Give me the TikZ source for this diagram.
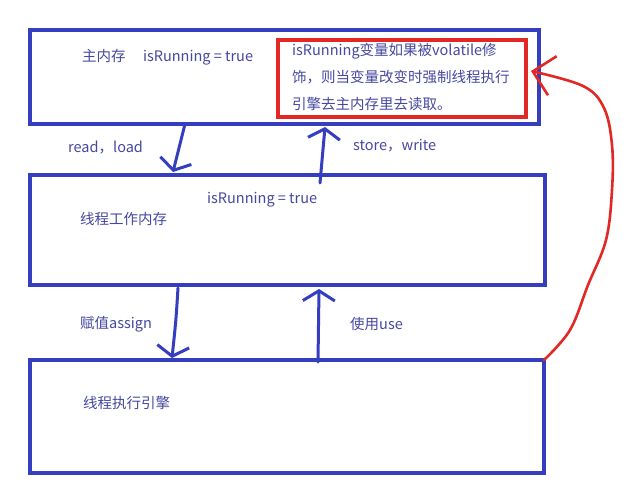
\documentclass[tikz,border=0pt]{standalone}
\usepackage{fontspec}
\setmainfont{Noto Sans CJK SC}
\usetikzlibrary{arrows.meta}
\definecolor{boxblue}{RGB}{52,62,190}
\definecolor{txtblue}{RGB}{70,72,160}
\definecolor{redline}{RGB}{226,40,36}
\tikzset{
  membox/.style={draw=boxblue,line width=4bp,anchor=north west,inner sep=0pt,outer sep=0pt},
  notebox/.style={draw=redline,line width=4bp,anchor=north west,inner sep=0pt,outer sep=0pt},
  lbl/.style={text=txtblue,anchor=west,inner sep=0pt,font=\fontsize{14.5bp}{17bp}\selectfont},
  flow/.style={draw=boxblue,line width=3bp,line cap=round,-{Straight Barb[length=10bp,width=32bp,line width=3bp]}},
  hint/.style={draw=redline,line width=2.6bp,line cap=round,-{Straight Barb[length=20bp,width=40bp,line width=2.6bp]}}
}
\begin{document}
\begin{tikzpicture}[x=1bp,y=-1bp]
\useasboundingbox (0,0) rectangle (629,485);
\fill[white] (0,0) rectangle (629,485);
% boxes
\node[membox,minimum width=509bp,minimum height=94.5bp] (mainmem) at (30,30) {};
\node[membox,minimum width=515bp,minimum height=110bp] (workmem) at (30,175) {};
\node[membox,minimum width=514bp,minimum height=113bp] (engine) at (30,360) {};
\node[notebox,minimum width=248bp,minimum height=77bp] (note) at (278,40) {};
% coordinates
\coordinate (rlA) at (185,124);
\coordinate (rlB) at (173,172);
\coordinate (swA) at (320,183);
\coordinate (swB) at (325,127);
\coordinate (asA) at (178,288);
\coordinate (asB) at (172,358);
\coordinate (usA) at (318,362);
\coordinate (usB) at (319,289);
\coordinate (vA) at (engine.north east);
\coordinate (vB) at (531,71);
% texts
\node[lbl] (t1) at (82,57) {主内存\hspace{1.2em}isRunning = true};
\node[lbl,anchor=north west,align=left,font=\fontsize{14.5bp}{27bp}\selectfont] (t2) at (292,43)
  {isRunning变量如果被volatile修\\饰，则当变量改变时强制线程执行\\引擎去主内存里去读取。};
\node[lbl] (t3) at (68,148) {read，load};
\node[lbl] (t4) at (353,146) {store，write};
\node[lbl] (t5) at (207,200) {isRunning = true};
\node[lbl] (t6) at (80,219) {线程工作内存};
\node[lbl] (t7) at (80,324) {赋值assign};
\node[lbl] (t8) at (350,324) {使用use};
\node[lbl] (t9) at (83,403) {线程执行引擎};
% arrows
\draw[flow] (rlA) -- (rlB);
\draw[flow] (swA) -- (swB);
\draw[flow] (asA) .. controls (176,320) .. (asB);
\draw[flow] (usA) -- (usB);
\draw[hint] plot[smooth,tension=0.6] coordinates {(vA) (570,330) (588,285) (606,240) (612,190) (612,145) (604,108) (583,86) (vB)};
\end{tikzpicture}
\end{document}
